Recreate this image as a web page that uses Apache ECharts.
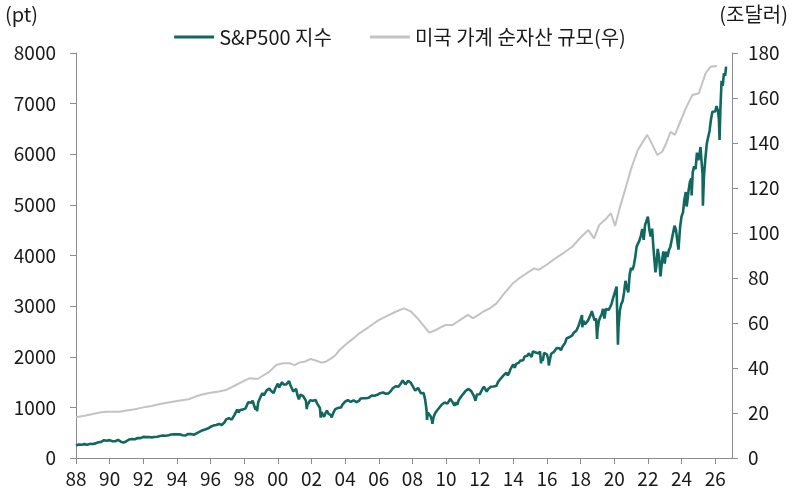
<!DOCTYPE html>
<html>
<head>
<meta charset="utf-8">
<script src="https://cdn.jsdelivr.net/npm/echarts@6/dist/echarts.min.js"></script>
<style>
  html, body { margin: 0; padding: 0; background: #fff; }
  #container { width: 800px; height: 502px; }
</style>
</head>
<body>
<div id="container"></div>
<script>
// x ticks (years) and labels
const tickYears = [1988, 1990, 1992, 1994, 1996, 1998, 2000, 2002, 2004, 2006, 2008, 2010, 2012, 2014, 2016, 2018, 2020, 2022, 2024, 2026];

// S&P500 month-end closes, Jan..Dec, 1988-2025
const spStart = 247; // end of 1987
const spFirstYear = 1988;
const spMonthClose = [
  [257, 268, 259, 261, 262, 274, 272, 262, 272, 279, 274, 278],
  [297, 289, 295, 310, 321, 318, 346, 351, 349, 340, 346, 353],
  [329, 332, 340, 331, 361, 358, 356, 323, 306, 304, 322, 330],
  [344, 367, 375, 375, 390, 371, 388, 395, 388, 392, 375, 417],
  [409, 413, 404, 415, 415, 408, 424, 414, 418, 419, 431, 436],
  [439, 443, 452, 440, 450, 451, 448, 464, 459, 468, 462, 466],
  [482, 467, 446, 451, 457, 444, 458, 475, 463, 472, 454, 459],
  [470, 487, 501, 515, 533, 545, 562, 562, 584, 582, 605, 616],
  [636, 640, 646, 654, 669, 671, 640, 652, 687, 705, 757, 741],
  [786, 791, 757, 801, 848, 885, 954, 899, 947, 915, 955, 970],
  [980, 1049, 1102, 1112, 1091, 1134, 1121, 957, 1017, 1099, 1164, 1229],
  [1280, 1238, 1286, 1335, 1302, 1373, 1329, 1320, 1283, 1363, 1389, 1469],
  [1394, 1366, 1499, 1452, 1421, 1455, 1431, 1518, 1437, 1429, 1315, 1320],
  [1366, 1240, 1160, 1249, 1256, 1224, 1211, 1134, 1041, 1060, 1139, 1148],
  [1130, 1107, 1147, 1077, 1067, 990, 912, 916, 815, 886, 936, 880],
  [856, 841, 848, 917, 964, 975, 990, 1008, 996, 1051, 1058, 1112],
  [1131, 1145, 1126, 1107, 1121, 1141, 1102, 1104, 1115, 1130, 1174, 1212],
  [1181, 1204, 1181, 1157, 1192, 1191, 1234, 1220, 1229, 1207, 1249, 1248],
  [1280, 1281, 1295, 1311, 1270, 1270, 1277, 1304, 1336, 1378, 1401, 1418],
  [1438, 1407, 1421, 1482, 1531, 1503, 1455, 1474, 1527, 1549, 1481, 1468],
  [1379, 1331, 1323, 1386, 1400, 1280, 1267, 1283, 1165, 969, 896, 903],
  [826, 735, 798, 873, 919, 919, 987, 1021, 1057, 1036, 1096, 1115],
  [1074, 1104, 1169, 1187, 1089, 1031, 1102, 1049, 1141, 1183, 1181, 1258],
  [1286, 1327, 1326, 1364, 1345, 1321, 1292, 1219, 1131, 1253, 1247, 1258],
  [1312, 1366, 1408, 1398, 1310, 1362, 1379, 1407, 1441, 1412, 1416, 1426],
  [1498, 1515, 1569, 1598, 1631, 1606, 1686, 1633, 1682, 1757, 1806, 1848],
  [1783, 1859, 1872, 1884, 1924, 1960, 1931, 2003, 1972, 2018, 2068, 2059],
  [1995, 2105, 2068, 2086, 2107, 2063, 2104, 1972, 1920, 2079, 2080, 2044],
  [1940, 1932, 2060, 2065, 2097, 2099, 2174, 2171, 2168, 2126, 2199, 2239],
  [2279, 2364, 2363, 2384, 2412, 2423, 2470, 2472, 2519, 2575, 2648, 2674],
  [2824, 2714, 2641, 2648, 2705, 2718, 2816, 2902, 2914, 2712, 2760, 2507],
  [2704, 2784, 2834, 2946, 2752, 2942, 2980, 2926, 2977, 3038, 3141, 3231],
  [3226, 2954, 2585, 2912, 3044, 3100, 3271, 3500, 3363, 3270, 3622, 3756],
  [3714, 3811, 3973, 4181, 4204, 4298, 4395, 4523, 4308, 4605, 4567, 4766],
  [4516, 4374, 4530, 4132, 4132, 3785, 4130, 3955, 3586, 3872, 4080, 3840],
  [4077, 3970, 4109, 4169, 4180, 4450, 4589, 4508, 4288, 4194, 4568, 4770],
  [4846, 5096, 5254, 5036, 5278, 5460, 5522, 5648, 5762, 5705, 6032, 5882],
  [6041, 5955, 5612, 5569, 5912, 6205, 6339, 6460, 6688, 6840, 6849, 6845]
];

// intramonth highs/lows and 2026 readings (year fraction, pt)
const spExtraX = [1990.78, 1998.76, 2001.72, 2002.55, 2002.78, 2003.19, 2007.78, 2008.87, 2009.19, 2010.5, 2011.76, 2015.65, 2016.11, 2018.1, 2018.98, 2020.14, 2020.22, 2022.01, 2022.45, 2022.78, 2023.82, 2024.3, 2024.6, 2025.13, 2025.27,
  2026.08, 2026.17, 2026.22, 2026.26, 2026.31, 2026.38, 2026.45, 2026.52, 2026.59, 2026.65];
const spExtraVal = [295, 923, 966, 797, 777, 800, 1565, 752, 677, 1022, 1099, 1868, 1829, 2581, 2351, 3386, 2237, 4797, 3667, 3577, 4117, 4967, 5186, 6144, 4982,
  6950, 6850, 6700, 6280, 6900, 7450, 7350, 7600, 7550, 7730];

// US household net worth, trillion USD (right axis)
const nwX = [1988.0, 1988.5, 1989.0, 1989.5, 1989.8, 1990.6, 1991.0, 1991.5, 1992.0, 1992.5, 1993.0, 1993.5, 1994.0, 1994.7, 1995.1, 1995.5, 1996.0, 1996.5, 1996.9, 1997.4, 1997.9, 1998.3, 1998.8, 1999.2, 1999.5, 1999.9,
  2000.3, 2000.7, 2001.0, 2001.3, 2001.6, 2001.95, 2002.3, 2002.6, 2002.85, 2003.1, 2003.4, 2003.67, 2004.0, 2004.4, 2004.85, 2005.4, 2006.0, 2006.5, 2007.0, 2007.5, 2007.9, 2008.3, 2008.7, 2009.0, 2009.4, 2009.7,
  2010.0, 2010.4, 2010.8, 2011.3, 2011.6, 2011.9, 2012.2, 2012.6, 2013.0, 2013.5, 2014.0, 2014.35, 2014.8, 2015.25, 2015.5, 2016.0, 2016.5, 2017.0, 2017.5, 2018.0, 2018.46, 2018.8, 2019.1, 2019.5, 2019.8,
  2020.05, 2020.3, 2020.7, 2021.0, 2021.4, 2021.7, 2021.96, 2022.25, 2022.56, 2022.85, 2023.1, 2023.35, 2023.6, 2023.9, 2024.25, 2024.64, 2025.03, 2025.43, 2025.73, 2026.1];
const nwVal = [18.1, 18.8, 19.6, 20.3, 20.6, 20.6, 21.1, 21.7, 22.5, 23.1, 24.0, 24.7, 25.3, 26.1, 27.3, 28.2, 29.0, 29.6, 30.2, 32.0, 33.9, 35.4, 35.1, 37.0, 38.4, 41.3,
  42.1, 42.1, 41.3, 42.5, 42.8, 44.0, 43.2, 42.4, 42.8, 43.9, 45.5, 48.0, 50.2, 52.6, 55.4, 58.2, 61.3, 63.2, 65.0, 66.5, 65.2, 62.1, 58.5, 55.7, 56.9, 58.2,
  59.1, 59.1, 61.2, 63.6, 62.1, 63.5, 65.0, 66.5, 68.7, 73.5, 77.8, 79.9, 82.2, 84.3, 83.6, 86.0, 88.7, 91.2, 93.9, 98.0, 101.3, 97.6, 103.5, 106.2, 108.8,
  103.1, 110.5, 120.6, 128.5, 136.9, 140.5, 143.6, 139.5, 134.7, 136.1, 140.0, 145.0, 143.6, 149.0, 155.4, 161.3, 162.1, 171.0, 173.9, 174.2];

var spData = [[spFirstYear, spStart]];
spMonthClose.forEach(function (row, i) {
  row.forEach(function (v, m) {
    spData.push([spFirstYear + i + (m + 1) / 12, v]);
  });
});
spExtraX.forEach(function (x, i) { spData.push([x, spExtraVal[i]]); });
spData.sort(function (a, b) { return a[0] - b[0]; });

var nwData = nwX.map(function (x, i) { return [x, nwVal[i]]; });

var dom = document.getElementById('container');
var myChart = echarts.init(dom, null, { renderer: 'canvas' });

var font = '"Noto Sans CJK KR", "Noto Sans", sans-serif';
var txt = '#1a1a1a';
var axisCol = '#8c8c8c';

var option = {
  animation: false,
  textStyle: { fontFamily: font },
  grid: { left: 76, right: 68, top: 53, bottom: 44 },
  legend: {
    top: 22,
    left: 'center',
    itemWidth: 40,
    itemHeight: 3,
    itemGap: 38,
    icon: 'rect',
    textStyle: { fontSize: 20, color: txt, fontFamily: font },
    data: ['S&P500 지수', '미국 가계 순자산 규모(우)']
  },
  graphic: [
    { type: 'text', left: 5, top: 4, style: { text: '(pt)', fontSize: 20, fill: txt, fontFamily: font } },
    { type: 'text', right: 12, top: 4, style: { text: '(조달러)', fontSize: 20, fill: txt, fontFamily: font } }
  ],
  xAxis: {
    type: 'value',
    min: 1988,
    max: 2027,
    interval: 2,
    splitLine: { show: false },
    axisLine: { lineStyle: { color: axisCol, width: 1 } },
    axisTick: { customValues: tickYears, length: 6, lineStyle: { color: axisCol } },
    axisLabel: {
      customValues: tickYears,
      fontSize: 19,
      color: txt,
      margin: 11,
      formatter: function (v) { return String(v).slice(2); }
    }
  },
  yAxis: [
    {
      type: 'value',
      min: 0,
      max: 8000,
      interval: 1000,
      splitLine: { show: false },
      axisLine: { show: true, lineStyle: { color: axisCol } },
      axisTick: { show: true, length: 6, lineStyle: { color: axisCol } },
      axisLabel: { fontSize: 19, color: txt, margin: 20, formatter: function (v) { return String(v); } }
    },
    {
      type: 'value',
      min: 0,
      max: 180,
      interval: 20,
      splitLine: { show: false },
      axisLine: { show: true, lineStyle: { color: axisCol } },
      axisTick: { show: true, length: 6, lineStyle: { color: axisCol } },
      axisLabel: { fontSize: 19, color: txt, margin: 16 }
    }
  ],
  series: [
    {
      name: 'S&P500 지수',
      type: 'line',
      yAxisIndex: 0,
      showSymbol: false,
      symbol: 'none',
      data: spData,
      color: '#10685f',
      lineStyle: { width: 2.6, color: '#10685f' },
      z: 3
    },
    {
      name: '미국 가계 순자산 규모(우)',
      type: 'line',
      yAxisIndex: 1,
      showSymbol: false,
      symbol: 'none',
      data: nwData,
      color: '#c3c3c3',
      lineStyle: { width: 2, color: '#c3c3c3' },
      z: 2
    }
  ]
};

if (option && typeof option === 'object') {
  myChart.setOption(option);
}

window.addEventListener('resize', myChart.resize);
</script>
</body>
</html>
